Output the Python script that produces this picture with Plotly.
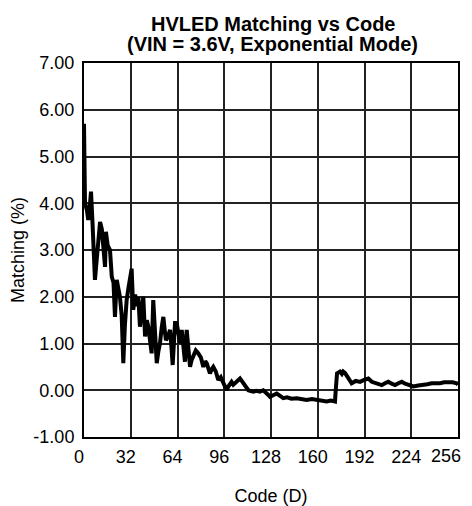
import plotly.graph_objects as go

# values
code = [0, 0.7, 2.0, 2.9, 4.0, 4.8, 5.8, 6.8, 7.5, 9.0, 10.2, 11.0, 12.2, 13.4, 14.4, 15.0,
        16.2, 17.8, 19.0, 20.2, 21.2, 22.4, 23.5, 24.6, 25.8, 26.9, 28.0, 29.2, 30.5, 31.5,
        32.6, 33.7, 35.0, 36.1, 37.2, 38.3, 39.5, 40.6, 41.8, 43.0, 44.0, 45.2, 46.3, 47.4,
        48.6, 49.8, 51.0, 52.0, 53.2, 54.3, 55.2, 56.1, 57.5, 58.9, 59.8, 60.7, 62.3, 63.4,
        64.5, 65.7, 66.9, 68.0, 69.1, 70.3, 71.5, 72.6, 73.7, 74.8, 76.5, 78.2, 80.0, 81.7,
        83.0, 84.0, 85.1, 86.2, 87.4, 88.5, 90.2, 91.9, 93.6, 95.3, 96.5, 97.7, 98.8, 99.9,
        101.0, 102.2, 104.5, 106.8, 108.0, 109.0, 110.8, 112.5, 114.2, 115.9, 118.0, 120.5,
        122.7, 124.0, 125.1, 126.2, 127.3, 129.6, 131.9, 134.2, 136.4, 139.0, 142.0, 145.6,
        149.0, 152.4, 156.0, 159.3, 162.7, 166.1, 169.0, 171.8, 172.3, 173.2, 175.2, 176.5,
        177.4, 178.6, 180.5, 183.2, 186.0, 188.9, 191.8, 194.6, 197.0, 199.2, 201.5, 203.8,
        206.0, 208.3, 210.6, 212.9, 215.2, 217.5, 219.8, 222.0, 225.4, 228.8, 232.2, 235.0,
        238.0, 241.0, 243.7, 246.5, 249.4, 252.3, 255.1, 256.0]
matching = [5.70, 4.00, 3.85, 3.64, 3.95, 4.25, 3.60, 2.90, 2.36, 2.90, 3.35, 3.60, 3.45, 3.10, 2.64, 3.39,
            3.10, 3.00, 2.43, 2.30, 1.57, 2.36, 2.20, 2.00, 1.60, 0.58, 1.40, 1.93, 2.20, 2.40,
            2.60, 1.72, 2.05, 1.80, 2.00, 1.36, 1.70, 2.00, 1.15, 1.50, 1.36, 1.10, 0.79, 1.93,
            1.30, 0.58, 0.85, 1.00, 1.35, 1.57, 1.30, 1.07, 1.15, 1.29, 0.95, 0.54, 1.44, 1.44,
            1.25, 1.00, 1.29, 0.95, 0.61, 1.29, 0.80, 0.50, 0.65, 0.72, 0.85, 0.79, 0.70, 0.50,
            0.62, 0.58, 0.47, 0.36, 0.45, 0.50, 0.40, 0.22, 0.28, 0.18, 0.10, 0.00, 0.08, 0.15,
            0.18, 0.12, 0.20, 0.25, 0.20, 0.15, 0.08, 0.00, -0.02, -0.03, -0.01, -0.03,
            0.00, -0.03, -0.07, -0.10, -0.14, -0.10, -0.07, -0.12, -0.17, -0.15, -0.18, -0.17,
            -0.19, -0.21, -0.19, -0.21, -0.22, -0.24, -0.22, -0.24, 0.00, 0.36, 0.40, 0.35,
            0.40, 0.37, 0.28, 0.15, 0.20, 0.18, 0.22, 0.25, 0.18, 0.15, 0.14, 0.11,
            0.15, 0.18, 0.14, 0.11, 0.15, 0.18, 0.14, 0.11, 0.08, 0.10, 0.11, 0.13,
            0.15, 0.14, 0.15, 0.17, 0.18, 0.17, 0.15, 0.12]

x_ticks = [0, 32, 64, 96, 128, 160, 192, 224, 256]
x_tick_labels = ["0", "32", "64", "96", "128", "160", "192", "224", "256"]
y_ticks = [-1, 0, 1, 2, 3, 4, 5, 6, 7]
y_tick_labels = ["-1.00", "0.00", "1.00", "2.00", "3.00", "4.00", "5.00", "6.00", "7.00"]
title_lines = ["HVLED Matching vs Code", "(VIN = 3.6V, Exponential Mode)"]

FONT = "Liberation Sans, Arial, sans-serif"

fig = go.Figure()
fig.add_trace(go.Scatter(
    x=code, y=matching, mode="lines",
    line=dict(color="black", width=4),
    showlegend=False,
))

# page body adds ~8px offset, so margins are shifted to keep the plot box in place
fig.update_layout(
    width=472, height=506,
    paper_bgcolor="white", plot_bgcolor="white",
    font=dict(family=FONT, size=18, color="black"),
    margin=dict(l=76, r=22, t=55, b=77),
)

# two-line bold title, one annotation per line for tighter spacing
for line, y_pos in zip(title_lines, [1.1056, 1.0508]):
    fig.add_annotation(
        text=f"<b>{line}</b>",
        xref="paper", yref="paper", x=0.505, y=y_pos,
        xanchor="center", yanchor="middle", showarrow=False,
        font=dict(family=FONT, size=20, color="black"),
    )

# last x label is pulled inward (as in the original) so it stays inside the page
fig.add_annotation(
    text=x_tick_labels[-1], xref="x", yref="paper", x=x_ticks[-1], y=0,
    xanchor="right", yanchor="top", yshift=-7, xshift=5, showarrow=False,
    font=dict(family=FONT, size=18, color="black"),
)

fig.update_xaxes(
    range=[0, 256], tickvals=x_ticks, ticktext=x_tick_labels[:-1] + [""], ticks="",
    showgrid=True, gridcolor="#222222", gridwidth=1.5,
    showline=True, linecolor="black", linewidth=2, mirror=True,
    zeroline=False, automargin=False,
    ticklabelshift=-5, ticklabelstandoff=2, ticklabeloverflow="allow",
    title=dict(text="Code (D)", font=dict(size=18), standoff=24),
    tickfont=dict(size=18),
)
fig.update_yaxes(
    range=[-1, 7], tickvals=y_ticks, ticktext=y_tick_labels, ticks="",
    showgrid=True, gridcolor="#222222", gridwidth=1.5,
    showline=True, linecolor="black", linewidth=2, mirror=True,
    zeroline=False, automargin=False, ticklabelstandoff=4,
    title=dict(text="Matching (%)", font=dict(size=18), standoff=14),
    tickfont=dict(size=18),
)

fig.write_html("out.html")
